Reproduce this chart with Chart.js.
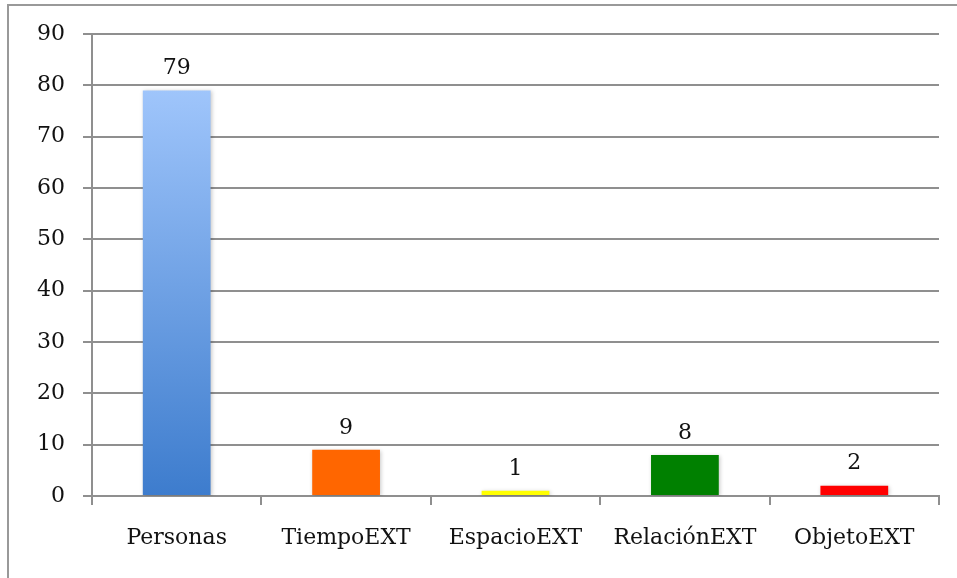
<!DOCTYPE html>
<html>
<head>
<meta charset="utf-8">
<script src="https://cdn.jsdelivr.net/npm/chart.js@4/dist/chart.umd.min.js"></script>
<style>
  html, body { margin: 0; padding: 0; background: #fff; }
  #wrap { position: relative; width: 957px; height: 578px; overflow: hidden; }
</style>
</head>
<body>
<div id="wrap"><canvas id="barChart" width="957" height="578"></canvas></div>
<script>
const categories = ['Personas', 'TiempoEXT', 'EspacioEXT', 'RelaciónEXT', 'ObjetoEXT'];
const counts = [79, 9, 1, 8, 2];
const barColors = [null, '#ff6600', '#ffff00', '#008000', '#ff0000'];
const yTicks = [0, 10, 20, 30, 40, 50, 60, 70, 80, 90];

const FONT = "'DejaVu Serif', 'Liberation Serif', serif";
const GRID = '#8f8f8f';

// outer frame, only the left and top edges fall inside the canvas
const framePlugin = {
    id: 'frame',
    beforeDraw(chart) {
        const ctx = chart.ctx;
        ctx.save();
        ctx.fillStyle = '#fff';
        ctx.fillRect(0, 0, chart.width, chart.height);
        ctx.strokeStyle = '#999';
        ctx.lineWidth = 2;
        ctx.beginPath();
        ctx.moveTo(8, chart.height);
        ctx.lineTo(8, 5);
        ctx.lineTo(chart.width, 5);
        ctx.stroke();
        ctx.restore();
    }
};

// soft shadow behind the bars
const shadowPlugin = {
    id: 'barShadow',
    beforeDatasetsDraw(chart) {
        const ctx = chart.ctx;
        ctx.save();
        ctx.shadowColor = 'rgba(0,0,0,0.22)';
        ctx.shadowBlur = 4;
        ctx.shadowOffsetX = 1;
        ctx.shadowOffsetY = 1;
    },
    afterDatasetsDraw(chart) {
        chart.ctx.restore();
    }
};

// value printed above each bar
const valueLabels = {
    id: 'valueLabels',
    afterDatasetsDraw(chart) {
        const ctx = chart.ctx;
        const meta = chart.getDatasetMeta(0);
        ctx.save();
        ctx.font = '22px ' + FONT;
        ctx.fillStyle = '#111';
        ctx.textAlign = 'center';
        ctx.textBaseline = 'bottom';
        meta.data.forEach((bar, i) => {
            ctx.fillText(String(counts[i]), bar.x, bar.y - 11);
        });
        ctx.restore();
    }
};

function barFill(context) {
    const i = context.dataIndex;
    if (barColors[i]) return barColors[i];
    const chart = context.chart;
    const area = chart.chartArea;
    if (!area) return '#6aa0e6';
    const y = chart.scales.y;
    const g = chart.ctx.createLinearGradient(0, y.getPixelForValue(counts[i]), 0, y.getPixelForValue(0));
    g.addColorStop(0, '#9fc5fb');
    g.addColorStop(1, '#3d7ccd');
    return g;
}

new Chart(document.getElementById('barChart'), {
    type: 'bar',
    data: {
        labels: categories,
        datasets: [{
            data: counts,
            backgroundColor: barFill,
            borderWidth: 0,
            barPercentage: 0.4,
            categoryPercentage: 1.0
        }]
    },
    options: {
        responsive: false,
        animation: false,
        layout: { padding: { top: 34, right: 18, bottom: 0, left: 0 } },
        plugins: {
            legend: { display: false },
            tooltip: { enabled: false }
        },
        scales: {
            x: {
                grid: {
                    offset: true,
                    drawOnChartArea: false,
                    drawTicks: true,
                    tickLength: 9,
                    color: GRID,
                    lineWidth: 2
                },
                border: { color: GRID, width: 2 },
                ticks: {
                    color: '#111',
                    padding: 20,
                    font: { family: FONT, size: 22 }
                },
                afterFit(scale) { scale.height = 82; }
            },
            y: {
                min: 0,
                max: 90,
                afterBuildTicks(scale) {
                    scale.ticks = yTicks.map(v => ({ value: v }));
                },
                grid: {
                    color: GRID,
                    lineWidth: 2,
                    tickLength: 9
                },
                border: { color: GRID, width: 2 },
                ticks: {
                    color: '#111',
                    padding: 18,
                    font: { family: FONT, size: 22 }
                },
                afterFit(scale) { scale.width = 92; }
            }
        }
    },
    plugins: [framePlugin, shadowPlugin, valueLabels]
});
</script>
</body>
</html>
